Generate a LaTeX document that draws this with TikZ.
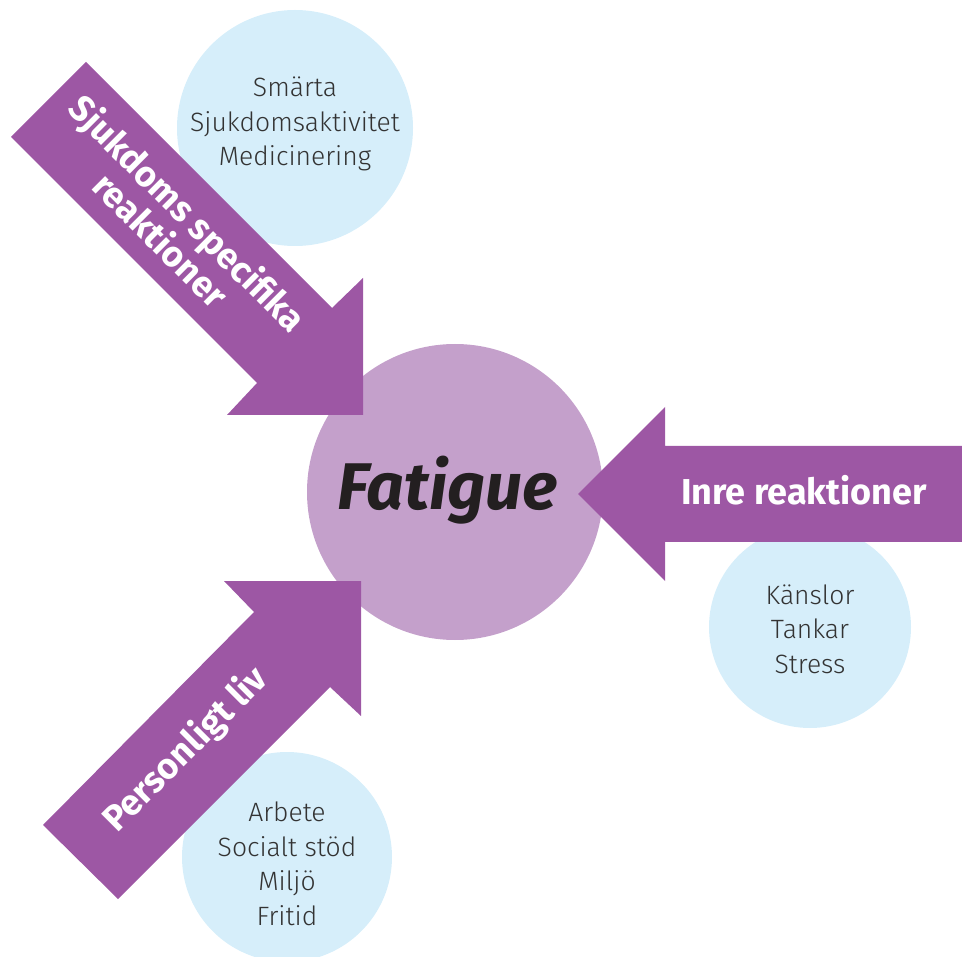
\documentclass[tikz,border=0pt]{standalone}
\usepackage{fontspec}
\setmainfont{Fira Sans}
\newfontfamily\lightf{Fira Sans Light}
\definecolor{arrowpurple}{RGB}{157,87,164}
\definecolor{centerpurple}{RGB}{196,160,203}
\definecolor{lightblue}{RGB}{214,238,250}
\definecolor{textgray}{RGB}{51,51,51}
\definecolor{fatiguecol}{RGB}{35,31,32}
\begin{document}
\begin{tikzpicture}[x=1pt,y=-1pt,
  bubble/.style={circle, fill=lightblue, inner sep=0pt},
  bubbletext/.style={align=center, text=textgray, font=\lightf\fontsize{26.5}{34.5}\selectfont, inner sep=0pt},
  bigarrow/.style={fill=arrowpurple},
  arrowtext/.style={text=white, font=\bfseries\fontsize{36}{38}\selectfont, align=center, inner sep=0pt}]
\useasboundingbox (0,0) rectangle (962,957);
% light blue bubbles
\node[bubble, minimum size=236pt] (b1) at (295,128) {};
\node[bubble, minimum size=202pt] (b2) at (810,627) {};
\node[bubble, minimum size=210pt] (b3) at (287,857) {};
% central circle
\node[circle, fill=centerpurple, inner sep=0pt, minimum size=296pt] (c) at (455,492) {};
% arrows
\fill[bigarrow] (962,446) -- (665,446) -- (665,407) -- (578,494) -- (665,581) -- (665,542) -- (962,542) -- cycle;
\fill[bigarrow] (86,62) -- (332,308) -- (363,278) -- (363,415) -- (227,415) -- (257,383) -- (11,137) -- cycle;
\fill[bigarrow] (43,825) -- (254,612) -- (224,581) -- (361,581) -- (361,716) -- (330,687) -- (118,899) -- cycle;
% texts
\node[bubbletext] (t1) at (295,124) {Smärta\\Sjukdomsaktivitet\\Medicinering};
\node[bubbletext] (t2) at (810,629) {Känslor\\Tankar\\Stress};
\node[bubbletext] (t3) at (287,864) {Arbete\\Socialt stöd\\Miljö\\Fritid};
\node[arrowtext, anchor=base] (a2) at (804,505) {Inre reaktioner};
\node[arrowtext, rotate=-45] (a1) at (175,226) {Sjukdoms specifika\\reaktioner};
\node[arrowtext, rotate=45] (a3) at (186,750) {Personligt liv};
\node[anchor=base, text=fatiguecol, font=\bfseries\itshape\fontsize{66}{66}\selectfont, inner sep=0pt] (f) at (447.5,510) {Fatigue};
\end{tikzpicture}
\end{document}
